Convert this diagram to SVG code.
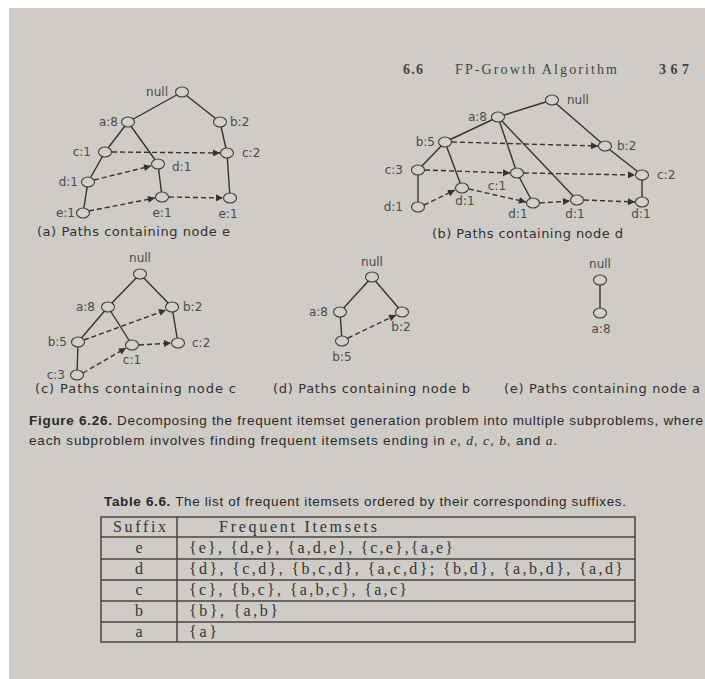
<svg xmlns="http://www.w3.org/2000/svg" width="705" height="679" viewBox="0 0 705 679">
<defs>
<marker id="ah" viewBox="0 0 10 10" refX="10" refY="5" markerWidth="8" markerHeight="7" orient="auto" markerUnits="userSpaceOnUse"><path d="M0,0 L10,5 L0,10 z" fill="#333"/></marker>
<style>
.n{fill:#d2d0cb;stroke:#3c3c3c;stroke-width:1.1}
.s{stroke:#333;stroke-width:1.4;fill:none}
.d{stroke:#333;stroke-width:1.4;stroke-dasharray:5 3;fill:none;marker-end:url(#ah)}
.l{font-family:"DejaVu Sans",sans-serif;font-size:12px;fill:#4a4a4a}
.m{text-anchor:middle}
.r{text-anchor:end}
.cap{font-family:"DejaVu Sans",sans-serif;font-size:13px;fill:#303030}
.fc{font-family:"Liberation Sans",sans-serif;font-size:13.5px;fill:#282828}
.tb{font-family:"Liberation Serif",serif;font-size:16px;fill:#333}
.hd{font-family:"Liberation Serif",serif;font-size:14px;fill:#444}
.grid{stroke:#454545;stroke-width:1.5;fill:none}
</style>
</defs>
<rect width="705" height="679" fill="#ffffff"/>
<rect x="9" y="8" width="696" height="671" fill="#cfccc7"/>

<g id="header">
<text class="hd" x="403" y="74" font-weight="bold" textLength="20">6.6</text>
<text class="hd" x="455" y="74" textLength="162">FP-Growth Algorithm</text>
<text class="hd" x="659" y="74" font-weight="bold" textLength="30">367</text>
</g>

<g id="connectors">
<!-- panel a -->
<line class="s" x1="182" y1="92" x2="128" y2="122"/>
<line class="s" x1="182" y1="92" x2="220" y2="122"/>
<line class="s" x1="128" y1="122" x2="105" y2="152"/>
<line class="s" x1="128" y1="122" x2="158" y2="164"/>
<line class="s" x1="105" y1="152" x2="88" y2="182"/>
<line class="s" x1="88" y1="182" x2="83" y2="213"/>
<line class="s" x1="158" y1="164" x2="162" y2="197"/>
<line class="s" x1="220" y1="122" x2="227" y2="153"/>
<line class="s" x1="227" y1="153" x2="230" y2="198"/>
<line class="d" x1="112" y1="152" x2="220" y2="153"/>
<line class="d" x1="94" y1="180" x2="151" y2="166"/>
<line class="d" x1="89" y1="211" x2="155" y2="198"/>
<line class="d" x1="169" y1="197" x2="223" y2="198"/>
<!-- panel b -->
<line class="s" x1="552" y1="100" x2="498" y2="117"/>
<line class="s" x1="552" y1="100" x2="605" y2="146"/>
<line class="s" x1="605" y1="146" x2="642" y2="175"/>
<line class="s" x1="498" y1="117" x2="445" y2="142"/>
<line class="s" x1="498" y1="117" x2="517" y2="173"/>
<line class="s" x1="498" y1="117" x2="577" y2="200"/>
<line class="s" x1="445" y1="142" x2="418" y2="170"/>
<line class="s" x1="445" y1="142" x2="462" y2="188"/>
<line class="s" x1="418" y1="170" x2="418" y2="207"/>
<line class="s" x1="517" y1="173" x2="533" y2="203"/>
<line class="s" x1="642" y1="175" x2="642" y2="202"/>
<line class="d" x1="452" y1="142" x2="598" y2="146"/>
<line class="d" x1="425" y1="170" x2="510" y2="173"/>
<line class="d" x1="524" y1="173" x2="635" y2="175"/>
<line class="d" x1="424" y1="205" x2="455" y2="190"/>
<line class="d" x1="469" y1="189" x2="526" y2="202"/>
<line class="d" x1="540" y1="203" x2="570" y2="201"/>
<line class="d" x1="584" y1="200" x2="635" y2="202"/>
<!-- panel c -->
<line class="s" x1="140" y1="274" x2="108" y2="307"/>
<line class="s" x1="140" y1="274" x2="172" y2="307"/>
<line class="s" x1="108" y1="307" x2="78" y2="342"/>
<line class="s" x1="108" y1="307" x2="132" y2="345"/>
<line class="s" x1="78" y1="342" x2="77" y2="375"/>
<line class="s" x1="172" y1="307" x2="178" y2="343"/>
<line class="d" x1="84" y1="340" x2="166" y2="310"/>
<line class="d" x1="83" y1="373" x2="126" y2="348"/>
<line class="d" x1="139" y1="345" x2="171" y2="343"/>
<!-- panel d -->
<line class="s" x1="372" y1="277" x2="340" y2="312"/>
<line class="s" x1="372" y1="277" x2="402" y2="312"/>
<line class="s" x1="340" y1="312" x2="342" y2="341"/>
<line class="d" x1="348" y1="338" x2="396" y2="315"/>
<!-- panel e -->
<line class="s" x1="600" y1="280" x2="600" y2="313"/>
</g>

<g id="panel-a">
<g id="a-null"><ellipse class="n" cx="182" cy="92" rx="6.5" ry="5"/><text class="l r" x="168" y="96">null</text></g>
<g id="a-a8"><ellipse class="n" cx="128" cy="122" rx="6.5" ry="5"/><text class="l r" x="118" y="126">a:8</text></g>
<g id="a-b2"><ellipse class="n" cx="220" cy="122" rx="6.5" ry="5"/><text class="l" x="230" y="126">b:2</text></g>
<g id="a-c1"><ellipse class="n" cx="105" cy="152" rx="6.5" ry="5"/><text class="l r" x="91" y="156">c:1</text></g>
<g id="a-c2"><ellipse class="n" cx="227" cy="153" rx="6.5" ry="5"/><text class="l" x="242" y="157">c:2</text></g>
<g id="a-d1m"><ellipse class="n" cx="158" cy="164" rx="6.5" ry="5"/><text class="l" x="172" y="171">d:1</text></g>
<g id="a-d1l"><ellipse class="n" cx="88" cy="182" rx="6.5" ry="5"/><text class="l r" x="78" y="186">d:1</text></g>
<g id="a-e1l"><ellipse class="n" cx="83" cy="213" rx="6.5" ry="5"/><text class="l r" x="75" y="217">e:1</text></g>
<g id="a-e1m"><ellipse class="n" cx="162" cy="197" rx="6.5" ry="5"/><text class="l m" x="162" y="217">e:1</text></g>
<g id="a-e1r"><ellipse class="n" cx="230" cy="198" rx="6.5" ry="5"/><text class="l m" x="228" y="218">e:1</text></g>
<text class="cap" x="37" y="236" textLength="193">(a) Paths containing node e</text>
</g>

<g id="panel-b">
<g id="b-null"><ellipse class="n" cx="552" cy="100" rx="6.5" ry="5"/><text class="l" x="567" y="104">null</text></g>
<g id="b-a8"><ellipse class="n" cx="498" cy="117" rx="6.5" ry="5"/><text class="l r" x="487" y="121">a:8</text></g>
<g id="b-b5"><ellipse class="n" cx="445" cy="142" rx="6.5" ry="5"/><text class="l r" x="435" y="146">b:5</text></g>
<g id="b-b2"><ellipse class="n" cx="605" cy="146" rx="6.5" ry="5"/><text class="l" x="617" y="150">b:2</text></g>
<g id="b-c3"><ellipse class="n" cx="418" cy="170" rx="6.5" ry="5"/><text class="l r" x="403" y="174">c:3</text></g>
<g id="b-c1"><ellipse class="n" cx="517" cy="173" rx="6.5" ry="5"/><text class="l m" x="497" y="190">c:1</text></g>
<g id="b-c2"><ellipse class="n" cx="642" cy="175" rx="6.5" ry="5"/><text class="l" x="657" y="179">c:2</text></g>
<g id="b-d1a"><ellipse class="n" cx="418" cy="207" rx="6.5" ry="5"/><text class="l r" x="403" y="211">d:1</text></g>
<g id="b-d1b"><ellipse class="n" cx="462" cy="188" rx="6.5" ry="5"/><text class="l m" x="465" y="205">d:1</text></g>
<g id="b-d1c"><ellipse class="n" cx="533" cy="203" rx="6.5" ry="5"/><text class="l m" x="518" y="218">d:1</text></g>
<g id="b-d1d"><ellipse class="n" cx="577" cy="200" rx="6.5" ry="5"/><text class="l m" x="575" y="218">d:1</text></g>
<g id="b-d1e"><ellipse class="n" cx="642" cy="202" rx="6.5" ry="5"/><text class="l m" x="641" y="218">d:1</text></g>
<text class="cap" x="432" y="238" textLength="191">(b) Paths containing node d</text>
</g>

<g id="panel-c">
<g id="c-null"><ellipse class="n" cx="140" cy="274" rx="6.5" ry="5"/><text class="l m" x="140" y="262">null</text></g>
<g id="c-a8"><ellipse class="n" cx="108" cy="307" rx="6.5" ry="5"/><text class="l r" x="95" y="311">a:8</text></g>
<g id="c-b2"><ellipse class="n" cx="172" cy="307" rx="6.5" ry="5"/><text class="l" x="183" y="311">b:2</text></g>
<g id="c-b5"><ellipse class="n" cx="78" cy="342" rx="6.5" ry="5"/><text class="l r" x="67" y="346">b:5</text></g>
<g id="c-c1"><ellipse class="n" cx="132" cy="345" rx="6.5" ry="5"/><text class="l m" x="132" y="364">c:1</text></g>
<g id="c-c2"><ellipse class="n" cx="178" cy="343" rx="6.5" ry="5"/><text class="l" x="192" y="347">c:2</text></g>
<g id="c-c3"><ellipse class="n" cx="77" cy="375" rx="6.5" ry="5"/><text class="l r" x="65" y="379">c:3</text></g>
<text class="cap" x="35" y="393" textLength="201">(c) Paths containing node c</text>
</g>

<g id="panel-d">
<g id="d-null"><ellipse class="n" cx="372" cy="277" rx="6.5" ry="5"/><text class="l m" x="372" y="266">null</text></g>
<g id="d-a8"><ellipse class="n" cx="340" cy="312" rx="6.5" ry="5"/><text class="l r" x="328" y="316">a:8</text></g>
<g id="d-b2"><ellipse class="n" cx="402" cy="312" rx="6.5" ry="5"/><text class="l m" x="401" y="331">b:2</text></g>
<g id="d-b5"><ellipse class="n" cx="342" cy="341" rx="6.5" ry="5"/><text class="l m" x="342" y="361">b:5</text></g>
<text class="cap" x="273" y="393" textLength="197">(d) Paths containing node b</text>
</g>

<g id="panel-e">
<g id="e-null"><ellipse class="n" cx="600" cy="280" rx="6.5" ry="5"/><text class="l m" x="600" y="268">null</text></g>
<g id="e-a8"><ellipse class="n" cx="600" cy="313" rx="6.5" ry="5"/><text class="l m" x="601" y="333">a:8</text></g>
<text class="cap" x="504" y="393" textLength="196">(e) Paths containing node a</text>
</g>

<g id="figure-caption">
<text class="fc" x="29" y="425" textLength="674"><tspan font-weight="bold">Figure 6.26.</tspan>  Decomposing the frequent itemset generation problem into multiple subproblems, where</text>
<text class="fc" x="29" y="445" textLength="528">each subproblem involves finding frequent itemsets ending in <tspan font-family="Liberation Serif" font-style="italic">e</tspan>, <tspan font-family="Liberation Serif" font-style="italic">d</tspan>, <tspan font-family="Liberation Serif" font-style="italic">c</tspan>, <tspan font-family="Liberation Serif" font-style="italic">b</tspan>, and <tspan font-family="Liberation Serif" font-style="italic">a</tspan>.</text>
</g>

<g id="table">
<text class="fc" x="104" y="506" font-size="13" textLength="522"><tspan font-weight="bold">Table 6.6.</tspan>  The list of frequent itemsets ordered by their corresponding suffixes.</text>
<rect class="grid" x="101" y="517" width="534" height="125"/>
<line class="grid" x1="177" y1="517" x2="177" y2="642"/>
<line class="grid" x1="101" y1="537" x2="635" y2="537"/>
<line class="grid" x1="101" y1="559" x2="635" y2="559"/>
<line class="grid" x1="101" y1="580" x2="635" y2="580"/>
<line class="grid" x1="101" y1="601" x2="635" y2="601"/>
<line class="grid" x1="101" y1="622" x2="635" y2="622"/>
<text class="tb" x="113" y="532" textLength="53">Suffix</text>
<text class="tb" x="219" y="532" textLength="158">Frequent Itemsets</text>
<text class="tb m" x="139" y="553">e</text>
<text class="tb m" x="139" y="574">d</text>
<text class="tb m" x="139" y="595">c</text>
<text class="tb m" x="139" y="616">b</text>
<text class="tb m" x="139" y="637">a</text>
<text class="tb" x="189" y="553" textLength="264">{e}, {d,e}, {a,d,e}, {c,e},{a,e}</text>
<text class="tb" x="189" y="574" textLength="434">{d}, {c,d}, {b,c,d}, {a,c,d}; {b,d}, {a,b,d}, {a,d}</text>
<text class="tb" x="189" y="595" textLength="218">{c}, {b,c}, {a,b,c}, {a,c}</text>
<text class="tb" x="189" y="616" textLength="89">{b}, {a,b}</text>
<text class="tb" x="189" y="637" textLength="28">{a}</text>
</g>
</svg>
